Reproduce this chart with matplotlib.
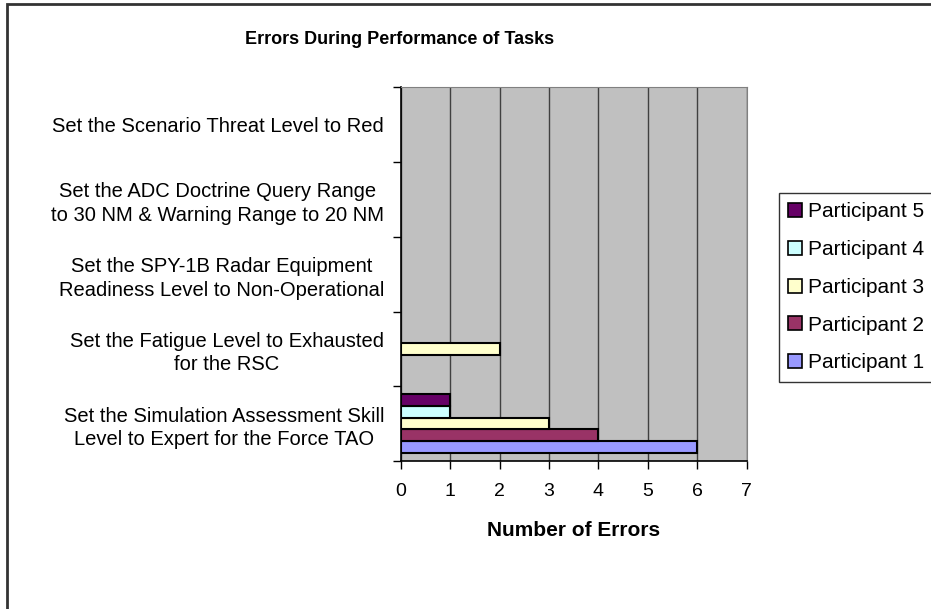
import matplotlib
matplotlib.use('Agg')
import matplotlib.pyplot as plt
from matplotlib.patches import Rectangle, Patch
import numpy as np

plt.rcParams['font.family'] = ['Liberation Sans', 'DejaVu Sans']

# tasks, bottom to top as drawn
tasks = [
    'Set the Simulation Assessment Skill\nLevel to Expert for the Force TAO',
    'Set the Fatigue Level to Exhausted\nfor the RSC',
    'Set the SPY-1B Radar Equipment\nReadiness Level to Non-Operational',
    'Set the ADC Doctrine Query Range\nto 30 NM & Warning Range to 20 NM',
    'Set the Scenario Threat Level to Red',
]
participants = ['Participant 1', 'Participant 2', 'Participant 3', 'Participant 4', 'Participant 5']
p1 = [6, 0, 0, 0, 0]
p2 = [4, 0, 0, 0, 0]
p3 = [3, 2, 0, 0, 0]
p4 = [1, 0, 0, 0, 0]
p5 = [1, 0, 0, 0, 0]
errors = [p1, p2, p3, p4, p5]
colors = ['#9999FF', '#993366', '#FFFFCC', '#CCFFFF', '#660066']

W, H = 931, 609
fig = plt.figure(figsize=(W / 100, H / 100), dpi=100)
ax = fig.add_axes([400.7 / W, 1 - 461 / H, (746.7 - 400.7) / W, (461 - 87.3) / H])
ax.set_facecolor('#C0C0C0')

y = np.arange(len(tasks))
h = 0.156
for i, (vals, c) in enumerate(zip(errors, colors)):
    vals = np.array(vals, dtype=float)
    mask = vals > 0
    ax.barh(y[mask] + (i - 2) * h, vals[mask], height=h, color=c,
            edgecolor='black', linewidth=1.5, zorder=3)

ax.set_xlim(0, 7)
ax.set_ylim(-0.5, len(tasks) - 0.5)
ax.set_xticks(range(8))
ax.tick_params(axis='x', labelsize=14, length=6, direction='out', pad=10, width=1)
ax.set_yticks(np.arange(len(tasks) + 1) - 0.5)
ax.set_yticklabels([])
ax.set_yticks(y, minor=True)
ax.set_yticklabels(tasks, minor=True, fontsize=14.5, multialignment='center', linespacing=1.3)
ax.tick_params(axis='y', which='major', length=6, width=1)
ax.tick_params(axis='y', which='minor', length=0, pad=12)
ax.xaxis.grid(True, color='#404040', linewidth=1, zorder=1)
ax.set_axisbelow(True)
for s in ['top', 'right']:
    ax.spines[s].set_color('#808080')
for s in ['left', 'bottom']:
    ax.spines[s].set_color('black')
    ax.spines[s].set_linewidth(1.2)

ax.set_xlabel('Number of Errors', fontsize=15, fontweight='bold', labelpad=15)
fig.text(400 / W, 1 - 40 / H, 'Errors During Performance of Tasks', ha='center', va='center',
         fontsize=13, fontweight='bold')

handles = [Patch(facecolor=c, edgecolor='black', linewidth=1.2, label=p) for p, c in zip(participants, colors)]
leg = fig.legend(handles[::-1], participants[::-1], loc='upper left',
                 bbox_to_anchor=(779 / W, 1 - 193 / H), fontsize=15, frameon=True,
                 fancybox=False, edgecolor='black', handlelength=0.65, handleheight=0.65,
                 handletextpad=0.3, labelspacing=0.9, borderpad=0.45, borderaxespad=0)
leg.get_frame().set_linewidth(1)

fig.patches.append(Rectangle((7 / W, -0.1), 2, 1.1 - 4 / H, transform=fig.transFigure,
                             fill=False, edgecolor='#333333', linewidth=2))

fig.savefig('out.png', dpi=100)
